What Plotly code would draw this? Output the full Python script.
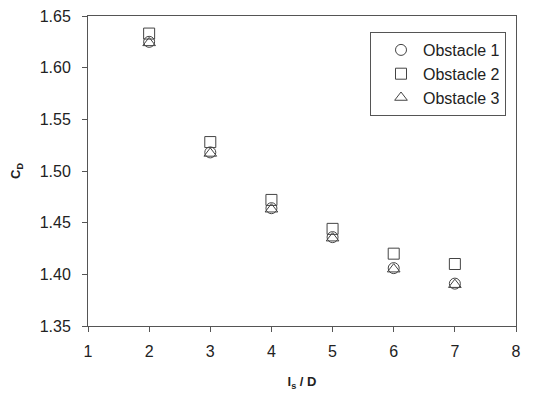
import plotly.graph_objects as go

ls_d = [2, 3, 4, 5, 6, 7]
obstacle1 = [1.625, 1.518, 1.464, 1.436, 1.406, 1.391]
obstacle2 = [1.633, 1.528, 1.472, 1.444, 1.420, 1.410]
obstacle3 = [1.624, 1.517, 1.463, 1.435, 1.405, 1.390]
x_ticks = [1, 2, 3, 4, 5, 6, 7, 8]
y_ticks = [1.35, 1.40, 1.45, 1.50, 1.55, 1.60, 1.65]

col = "#444444"
fig = go.Figure()
for name, vals, sym in [("Obstacle 1", obstacle1, "circle-open"),
                        ("Obstacle 2", obstacle2, "square-open"),
                        ("Obstacle 3", obstacle3, "triangle-up-open")]:
    fig.add_trace(go.Scatter(x=ls_d, y=vals, mode="markers", name=name,
                             marker=dict(symbol=sym, size=11, color=col,
                                         line=dict(width=1, color=col))))

axis_common = dict(showgrid=False, zeroline=False, showline=True, linecolor="#555555",
                   linewidth=1, mirror=True, ticks="outside", ticklen=5, automargin=False,
                   ticklabeloverflow="allow",
                   tickcolor="#555555", tickfont=dict(family="Liberation Sans", size=16, color="#222"))
fig.update_layout(
    width=527, height=388,
    margin=dict(l=80, r=19, t=8, b=70),
    plot_bgcolor="white", paper_bgcolor="white",
    font=dict(family="Liberation Sans", color="#222"),
    xaxis=dict(range=[1, 8], tickvals=x_ticks, ticktext=[str(v) for v in x_ticks],
               ticklabelstandoff=6,
               title=dict(text="<b>l<sub>s</sub> / D</b>", font=dict(size=13), standoff=17),
               **axis_common),
    yaxis=dict(range=[1.35, 1.65], tickvals=y_ticks, ticktext=[f"{v:.2f}" for v in y_ticks],
               ticklabelstandoff=8,
               title=dict(text="<b>C<sub>D</sub></b>", font=dict(size=13), standoff=21),
               **axis_common),
    legend=dict(x=(370 - 88) / 428, y=(325 - 31) / 310, xanchor="left", yanchor="top",
                bordercolor="#555555", borderwidth=1, bgcolor="white",
                font=dict(size=16, color="#222"), tracegroupgap=0,
                itemwidth=34, indentation=8),
    showlegend=True,
)
fig.write_html("out.html")
